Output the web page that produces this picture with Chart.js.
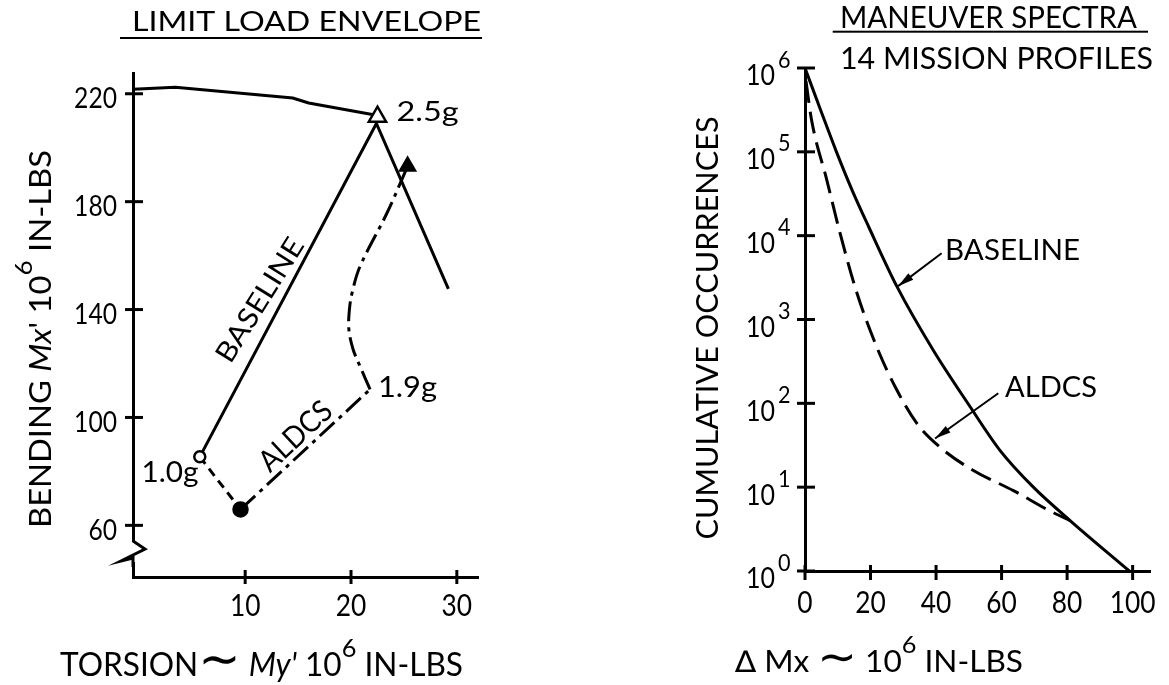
<!DOCTYPE html>
<html>
<head>
<meta charset="utf-8">
<script src="https://cdn.jsdelivr.net/npm/chart.js@4.4.1/dist/chart.umd.min.js"></script>
<style>
html, body { margin: 0; padding: 0; background: #fff; }
#wrap { position: relative; width: 1169px; height: 685px; overflow: hidden; background: #fff; }
canvas { position: absolute; top: 0; }
</style>
</head>
<body>
<div id="wrap">
  <canvas id="envelope" width="580" height="685" style="left:0px"></canvas>
  <canvas id="spectra" width="589" height="685" style="left:580px"></canvas>
</div>
<script>
// ---- limit load envelope (left) ----
var envYTicks = [60, 100, 140, 180, 220];
var envXTicks = [10, 20, 30];

var envTopX = [-0.6, 3.4, 14.5, 16.0, 22.4];
var envTopY = [221.7, 222.4, 218.4, 216.6, 212.0];
var baselineX = [5.71, 22.4, 29.2];
var baselineY = [85.4, 209.0, 147.7];
var aldcsDashX = [5.71, 9.56];
var aldcsDashY = [85.4, 65.9];
var aldcsLowX = [9.56, 21.8];
var aldcsLowY = [65.9, 110.4];
var aldcsCurveX = [21.8, 20.85, 20.2, 19.8, 19.85, 20.1, 20.85, 23.4, 25.35];
var aldcsCurveY = [110.4, 119.0, 125.2, 132.6, 140.0, 146.2, 156.0, 175.8, 193.1];

// ---- maneuver spectra (right) ----
var specYTicks = [1, 10, 100, 1000, 10000, 100000, 1000000];
var specYExp = ['0', '1', '2', '3', '4', '5', '6'];
var specXTicks = [0, 20, 40, 60, 80, 100];

var specBaseX = [0, 4.7, 9.6, 14.5, 19.5, 28, 39.2, 50.4, 59.5, 69.7, 80.9, 99];
var specBaseY = [1e6, 3.2e5, 1e5, 3.4e4, 1.26e4, 2500, 427, 91, 27.5, 10, 4.0, 1];
var specAldcsX = [0.3, 2.0, 6.6, 10.7, 15.8, 21.9, 28, 34.1, 41.2, 51.4, 63.6, 74.8, 80.9];
var specAldcsY = [7e5, 2.4e5, 4.7e4, 1.07e4, 2100, 470, 145, 58, 30, 15.8, 9.1, 5.2, 4.0];

var FONT = 'Lato, "DejaVu Sans", sans-serif';

function pts(xs, ys) {
    var out = [];
    for (var i = 0; i < xs.length; i++) out.push({ x: xs[i], y: ys[i] });
    return out;
}

function fontOf(size, italic) {
    return (italic ? 'italic ' : '') + size + 'px ' + FONT;
}

// text run made of parts; y is the middle of the capitals
function rich(ctx, parts, x, y, size, opts) {
    opts = opts || {};
    if (typeof parts === 'string') parts = [{ t: parts }];
    ctx.save();
    var widths = [], total = 0, i, p;
    for (i = 0; i < parts.length; i++) {
        p = parts[i];
        ctx.font = fontOf(size * (p.sup ? 0.8 : (p.k || 1)), p.it);
        widths.push(ctx.measureText(p.t).width);
        total += widths[i];
    }
    var sx = opts.width ? opts.width / total : (opts.sx || 1);
    ctx.translate(x, y);
    if (opts.angle) ctx.rotate(opts.angle);
    ctx.scale(sx, 1);
    var cx = 0;
    if (opts.align === 'center') cx = -total / 2;
    if (opts.align === 'right') cx = -total;
    ctx.fillStyle = '#000';
    ctx.textAlign = 'left';
    ctx.textBaseline = 'alphabetic';
    var base = size * 0.358;
    for (i = 0; i < parts.length; i++) {
        p = parts[i];
        ctx.font = fontOf(size * (p.sup ? 0.8 : (p.k || 1)), p.it);
        ctx.fillText(p.t, cx, base - (p.sup ? size * 0.62 : 0));
        cx += widths[i];
    }
    ctx.restore();
}

function seg(ctx, x1, y1, x2, y2) {
    ctx.beginPath();
    ctx.moveTo(x1, y1);
    ctx.lineTo(x2, y2);
    ctx.stroke();
}

function arrow(ctx, x1, y1, x2, y2) {
    var ang = Math.atan2(y2 - y1, x2 - x1);
    ctx.save();
    ctx.lineWidth = 2;
    seg(ctx, x1, y1, x2, y2);
    ctx.translate(x2, y2);
    ctx.rotate(ang);
    ctx.beginPath();
    ctx.moveTo(0, 0);
    ctx.lineTo(-16, -4);
    ctx.lineTo(-16, 4);
    ctx.closePath();
    ctx.fill();
    ctx.restore();
}

function lineSet(data, dash, tension) {
    return {
        data: data,
        showLine: true,
        borderColor: '#000',
        borderWidth: 3,
        borderDash: dash || [],
        pointRadius: 0,
        tension: tension || 0,
        fill: false,
        clip: false
    };
}

function markSet(data, style, radius, filled) {
    return {
        data: data,
        showLine: false,
        pointStyle: style,
        pointRadius: radius,
        pointBorderWidth: 2.5,
        pointBorderColor: '#000',
        pointBackgroundColor: filled ? '#000' : '#fff',
        clip: false
    };
}

function hiddenAxis(type, min, max) {
    return {
        type: type,
        min: min,
        max: max,
        grid: { display: false, drawTicks: false },
        border: { display: true, color: '#000', width: 3 },
        ticks: { display: false }
    };
}

var envDecor = {
    id: 'envDecor',
    afterDraw: function (chart) {
        var ctx = chart.ctx, a = chart.chartArea;
        var xs = chart.scales.x, ys = chart.scales.y;
        ctx.save();
        ctx.strokeStyle = '#000';
        ctx.fillStyle = '#000';
        ctx.lineWidth = 3;

        // axis break
        ctx.save();
        ctx.fillStyle = '#fff';
        ctx.fillRect(a.left - 4, a.bottom - 35, 8, 20);
        ctx.restore();
        ctx.beginPath();
        ctx.moveTo(a.left, a.bottom - 36);
        ctx.lineTo(a.left + 12, a.bottom - 28);
        ctx.lineTo(a.left - 12, a.bottom - 16);
        ctx.lineTo(a.left, a.bottom - 19);
        ctx.lineTo(a.left, a.bottom - 10);
        ctx.stroke();

        var i, p;
        for (i = 0; i < envYTicks.length; i++) {
            p = ys.getPixelForValue(envYTicks[i]);
            seg(ctx, a.left - 8, p, a.left + 10, p);
            rich(ctx, String(envYTicks[i]), a.left - 16, p + 4, 29, { align: 'right', sx: 0.85 });
        }
        for (i = 0; i < envXTicks.length; i++) {
            p = xs.getPixelForValue(envXTicks[i]);
            seg(ctx, p, a.bottom - 7, p, a.bottom + 7);
            rich(ctx, String(envXTicks[i]), p, a.bottom + 28, 31, { align: 'center', sx: 0.85 });
        }

        // point labels
        rich(ctx, '2.5g', xs.getPixelForValue(24.3), ys.getPixelForValue(213.4), 27, { width: 62 });
        rich(ctx, '1.9g', xs.getPixelForValue(22.55), ys.getPixelForValue(111.3), 28, { width: 59 });
        rich(ctx, '1.0g', xs.getPixelForValue(0.2), ys.getPixelForValue(79.8), 28, { width: 57 });
        rich(ctx, 'BASELINE', xs.getPixelForValue(11.33), ys.getPixelForValue(143.7), 28,
            { align: 'center', angle: -58 * Math.PI / 180, width: 141 });
        rich(ctx, 'ALDCS', xs.getPixelForValue(14.7), ys.getPixelForValue(93.3), 30,
            { align: 'center', angle: -43 * Math.PI / 180, width: 88 });

        // titles
        rich(ctx, 'LIMIT LOAD ENVELOPE', 132, 21, 27, { width: 349 });
        ctx.fillRect(120, 37, 362, 2);
        rich(ctx, [{ t: 'BENDING ' }, { t: 'Mx', it: true }, { t: "' 10" }, { t: '6', sup: true }, { t: ' IN-LBS' }],
            40, 339, 30, { align: 'center', angle: -Math.PI / 2, width: 378 });
        rich(ctx, [{ t: 'TORSION' }, { t: '\u223C', k: 1.6 }, { t: ' ' }, { t: "My'", it: true },
            { t: ' 10' }, { t: '6', sup: true }, { t: ' IN-LBS' }],
            60, 665, 32, { width: 403 });
        ctx.restore();
    }
};

var specDecor = {
    id: 'specDecor',
    afterDraw: function (chart) {
        var ctx = chart.ctx, a = chart.chartArea;
        var xs = chart.scales.x, ys = chart.scales.y;
        ctx.save();
        ctx.strokeStyle = '#000';
        ctx.fillStyle = '#000';
        ctx.lineWidth = 3;

        var i, p;
        for (i = 0; i < specYTicks.length; i++) {
            p = ys.getPixelForValue(specYTicks[i]);
            seg(ctx, a.left - 8, p, a.left + 10, p);
            rich(ctx, '10', a.left - 30, p + 7, 29, { align: 'right', width: 29 });
            rich(ctx, specYExp[i], a.left - 27, p - 9, 24, { sx: 0.9 });
        }
        for (i = 0; i < specXTicks.length; i++) {
            p = xs.getPixelForValue(specXTicks[i]);
            seg(ctx, p, a.bottom - 6, p, a.bottom + 9);
            rich(ctx, String(specXTicks[i]), p, a.bottom + 31, 31, { align: 'center', sx: 0.85 });
        }

        // curve call-outs
        arrow(ctx, xs.getPixelForValue(41.7), ys.getPixelForValue(6166),
            xs.getPixelForValue(28.4), ys.getPixelForValue(2500));
        arrow(ctx, xs.getPixelForValue(59), ys.getPixelForValue(132),
            xs.getPixelForValue(39.7), ys.getPixelForValue(38));
        rich(ctx, 'BASELINE', xs.getPixelForValue(42.75), ys.getPixelForValue(6760), 29, { width: 135 });
        rich(ctx, 'ALDCS', xs.getPixelForValue(61.07), ys.getPixelForValue(160), 29, { width: 92 });

        // titles
        rich(ctx, 'MANEUVER SPECTRA', 260, 17.5, 30, { width: 297 });
        ctx.fillRect(252.7, 30.7, 315.3, 2);
        rich(ctx, '14 MISSION PROFILES', 260, 58.4, 31, { width: 313 });
        rich(ctx, 'CUMULATIVE OCCURRENCES', 127, 328, 30, { align: 'center', angle: -Math.PI / 2, width: 423 });
        rich(ctx, [{ t: '\u2206', k: 1 }, { t: ' Mx ' }, { t: '\u223C', k: 1.5 }, { t: ' 10' },
            { t: '6', sup: true }, { t: ' IN-LBS' }],
            155, 661, 30, { width: 288 });
        ctx.restore();
    }
};

new Chart(document.getElementById('envelope'), {
    type: 'scatter',
    data: {
        datasets: [
            markSet([{ x: 5.71, y: 85.4 }], 'circle', 5.5, false),
            markSet([{ x: 9.56, y: 65.9 }], 'circle', 7, true),
            markSet([{ x: 22.5, y: 211.5 }], 'triangle', 10, false),
            markSet([{ x: 25.35, y: 193.1 }], 'triangle', 8.5, true),
            lineSet(pts(envTopX, envTopY)),
            lineSet(pts(baselineX, baselineY)),
            lineSet(pts(aldcsDashX, aldcsDashY), [9, 6]),
            lineSet(pts(aldcsLowX, aldcsLowY), [20, 6, 4, 6]),
            lineSet(pts(aldcsCurveX, aldcsCurveY), [20, 6, 4, 6], 0.35)
        ]
    },
    options: {
        responsive: false,
        animation: false,
        devicePixelRatio: 1,
        layout: { padding: { left: 133, right: 102, top: 73, bottom: 108 } },
        plugins: { legend: { display: false }, tooltip: { enabled: false } },
        scales: {
            x: hiddenAxis('linear', -0.6, 32.0),
            y: hiddenAxis('linear', 40.85, 227.7)
        }
    },
    plugins: [envDecor]
});

var baseSpec = lineSet(pts(specBaseX, specBaseY));
baseSpec.cubicInterpolationMode = 'monotone';
var aldcsSpec = lineSet(pts(specAldcsX, specAldcsY), [22, 9]);
aldcsSpec.cubicInterpolationMode = 'monotone';

new Chart(document.getElementById('spectra'), {
    type: 'scatter',
    data: { datasets: [baseSpec, aldcsSpec] },
    options: {
        responsive: false,
        animation: false,
        devicePixelRatio: 1,
        layout: { padding: { left: 225, right: 19, top: 68, bottom: 114 } },
        plugins: { legend: { display: false }, tooltip: { enabled: false } },
        scales: {
            x: hiddenAxis('linear', 0, 105.3),
            y: hiddenAxis('logarithmic', 1, 1000000)
        }
    },
    plugins: [specDecor]
});
</script>
</body>
</html>
